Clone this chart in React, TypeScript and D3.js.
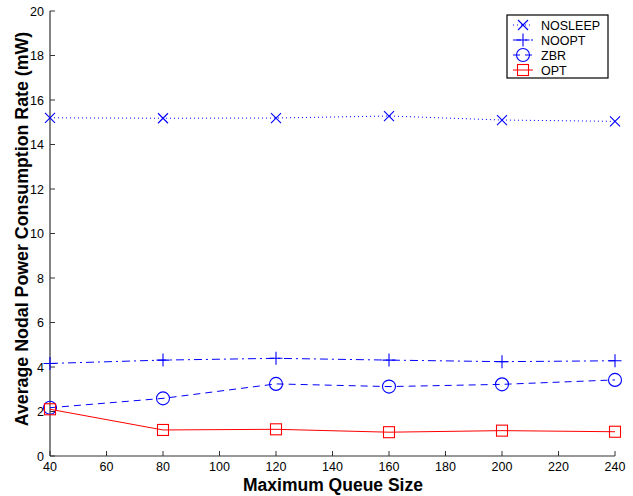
import React from "react";
import * as d3 from "d3";

const queueSizes = [40, 80, 120, 160, 200, 240];
const nosleep = [15.2, 15.18, 15.19, 15.28, 15.1, 15.04];
const noopt = [4.16, 4.31, 4.39, 4.31, 4.24, 4.28];
const zbr = [2.17, 2.59, 3.24, 3.12, 3.22, 3.42];
const opt = [2.1, 1.17, 1.2, 1.07, 1.14, 1.09];
const xTicks = [40, 60, 80, 100, 120, 140, 160, 180, 200, 220, 240];
const yTicks = [0, 2, 4, 6, 8, 10, 12, 14, 16, 18, 20];

type Marker = "x" | "plus" | "circle" | "square";
const series: { name: string; values: number[]; color: string; dash: string; marker: Marker }[] = [
  { name: "NOSLEEP", values: nosleep, color: "#0000ff", dash: "1,3", marker: "x" },
  { name: "NOOPT", values: noopt, color: "#0000ff", dash: "8,4,2,4", marker: "plus" },
  { name: "ZBR", values: zbr, color: "#0000ff", dash: "7,5", marker: "circle" },
  { name: "OPT", values: opt, color: "#ff0000", dash: "", marker: "square" },
];

function MarkerShape({ type, x, y, color }: { type: Marker; x: number; y: number; color: string }) {
  const common = { stroke: color, strokeWidth: 1.1, fill: "none" };
  if (type === "x") {
    const s = 5;
    return <path d={`M${x - s},${y - s}L${x + s},${y + s}M${x - s},${y + s}L${x + s},${y - s}`} {...common} />;
  }
  if (type === "plus") {
    const s = 6.5;
    return <path d={`M${x - s},${y}L${x + s},${y}M${x},${y - s}L${x},${y + s}`} {...common} />;
  }
  if (type === "circle") return <circle cx={x} cy={y} r={6.5} {...common} />;
  const s = 5.5;
  return <rect x={x - s} y={y - s} width={2 * s} height={2 * s} {...common} />;
}

export default function App() {
  const W = 633, H = 496;
  const x = d3.scaleLinear().domain([40, 240]).range([50, 615]);
  const y = d3.scaleLinear().domain([0, 20]).range([456, 11]);
  const font = "'Liberation Sans', Arial, Helvetica, sans-serif";
  const axisColor = "#333";
  const line = d3
    .line<number>()
    .x((_, i) => x(queueSizes[i]))
    .y((d) => y(d));

  const legendX = 507, legendY = 15, legendW = 101, legendH = 63;
  return (
    <svg width={W} height={H} style={{ position: "absolute", left: 0, top: 0, fontFamily: font }}>
      <rect width={W} height={H} fill="#fff" />
      {/* axes */}
      <line x1={50} x2={50} y1={11} y2={456} stroke={axisColor} strokeWidth={1.2} />
      <line x1={50} x2={615} y1={456} y2={456} stroke={axisColor} strokeWidth={1.2} />
      {yTicks.map((t) => (
        <g key={"y" + t}>
          <line x1={50} x2={55} y1={y(t)} y2={y(t)} stroke={axisColor} />
          <text x={44} y={y(t) + 4.5} textAnchor="end" fontSize={12.5} fill="#000">
            {t}
          </text>
        </g>
      ))}
      {xTicks.map((t) => (
        <g key={"x" + t}>
          <line x1={x(t)} x2={x(t)} y1={456} y2={451} stroke={axisColor} />
          <text x={x(t)} y={470.5} textAnchor="middle" fontSize={12.5} fill="#000">
            {t}
          </text>
        </g>
      ))}
      <text x={333} y={490.5} textAnchor="middle" fontSize={17.5} fontWeight="bold">
        Maximum Queue Size
      </text>
      <text
        transform={`translate(28,229) rotate(-90)`}
        textAnchor="middle"
        fontSize={17.8}
        fontWeight="bold"
      >
        Average Nodal Power Consumption Rate (mW)
      </text>
      {/* series */}
      {series.map((s) => (
        <g key={s.name}>
          <path d={line(s.values) || ""} fill="none" stroke={s.color} strokeWidth={1} strokeDasharray={s.dash} />
          {s.values.map((v, i) => (
            <MarkerShape key={i} type={s.marker} x={x(queueSizes[i])} y={y(v)} color={s.color} />
          ))}
        </g>
      ))}
      {/* legend */}
      <rect x={legendX} y={legendY} width={legendW} height={legendH} fill="#fff" stroke="#000" strokeWidth={1.2} />
      {series.map((s, i) => {
        const ly = legendY + 10 + i * 15;
        return (
          <g key={"lg" + s.name}>
            <line x1={513} x2={533} y1={ly} y2={ly} stroke={s.color} strokeDasharray={s.dash} />
            <MarkerShape type={s.marker} x={523} y={ly} color={s.color} />
            <text x={541} y={ly + 4.5} fontSize={12.5}>
              {s.name}
            </text>
          </g>
        );
      })}
    </svg>
  );
}
